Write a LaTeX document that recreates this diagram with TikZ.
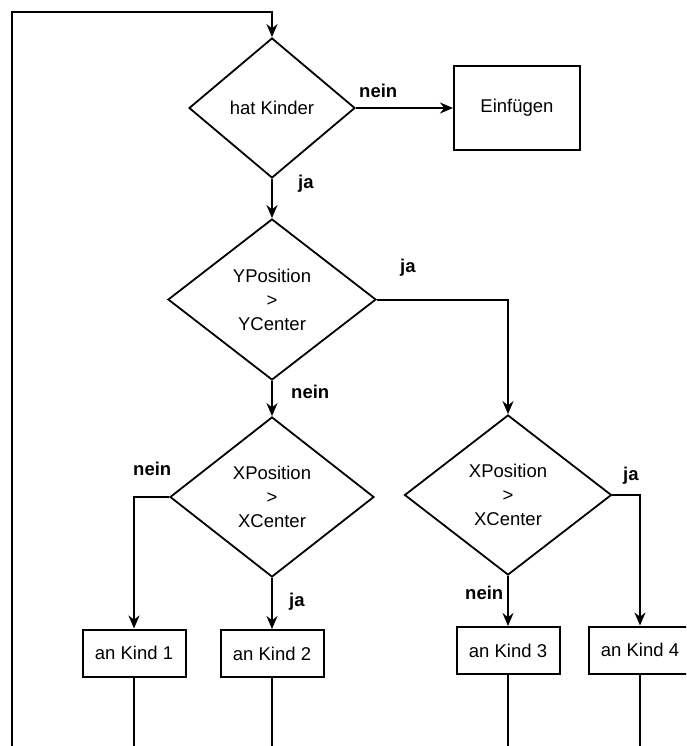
\documentclass[tikz,border=0pt]{standalone}
\usepackage{fontspec}
\setmainfont{Liberation Sans}
\usetikzlibrary{shapes.geometric,arrows.meta}

\begin{document}
\begin{tikzpicture}[
            x=1pt, y=-1pt,
            every node/.style={font=\fontsize{18.5}{24}\selectfont},
            frage/.style={diamond, draw, line width=1.8pt, inner sep=0pt, align=center},
            aktion/.style={rectangle, draw, line width=2pt, inner sep=0pt, minimum height=47pt, minimum width=103pt},
            lbl/.style={font=\fontsize{18.5}{24}\selectfont\bfseries, anchor=base west, inner sep=0pt},
            pfeil/.style={line width=2pt, -{Stealth[length=13pt,width=11pt]}}
        ]
        \path[use as bounding box, fill=white] (0,0) rectangle (686,746);
        \clip (0,0) rectangle (686,746);

        % Fragen
        \node[frage, minimum width=166pt, minimum height=140pt] (HK) at (272,108) {hat Kinder};
        \node[frage, minimum width=208pt, minimum height=161pt] (YP) at (272,299.5) {YPosition\\>\\YCenter};
        \node[frage, minimum width=204pt, minimum height=160pt] (XP1) at (272,497) {XPosition\\>\\XCenter};
        \node[frage, minimum width=207pt, minimum height=160pt] (XP2) at (508,495) {XPosition\\>\\XCenter};

        % Aktionen
        \node[aktion, minimum width=126pt, minimum height=84pt] (EIN) at (517,108) {Einfügen};
        \node[aktion] (K1) at (134,653) {an Kind 1};
        \node[aktion] (K2) at (272,653.5) {an Kind 2};
        \node[aktion] (K3) at (508,650.5) {an Kind 3};
        \node[aktion] (K4) at (640,650) {an Kind 4};

        % Beschriftungen
        \node[lbl] (L1) at (359,98) {nein};
        \node[lbl] (L2) at (298,189) {ja};
        \node[lbl] (L3) at (400,272) {ja};
        \node[lbl] (L4) at (291,398) {nein};
        \node[lbl] (L5) at (133,475) {nein};
        \node[lbl] (L6) at (289,606) {ja};
        \node[lbl] (L7) at (623,480) {ja};
        \node[lbl] (L8) at (465,599) {nein};

        % Verbindungen
        \coordinate (zurueck) at (12,760);
        \coordinate (oben) at (272,12);
        \draw[pfeil] (zurueck) |- (oben) -- (HK.north);
        \draw[pfeil] (HK.east) -- (EIN.west);
        \draw[pfeil] (HK.south) -- (YP.north);
        \draw[pfeil] (YP.east) -| (XP2.north);
        \draw[pfeil] (YP.south) -- (XP1.north);
        \draw[pfeil] (XP1.west) -| (K1.north);
        \draw[pfeil] (XP1.south) -- (K2.north);
        \draw[pfeil] (XP2.south) -- (K3.north);
        \draw[pfeil] (XP2.east) -| (K4.north);
        \foreach \k in {K1,K2,K3,K4}
            \draw[line width=2pt] (\k.south) -- (\k.south |- zurueck);
    \end{tikzpicture}
\end{document}
